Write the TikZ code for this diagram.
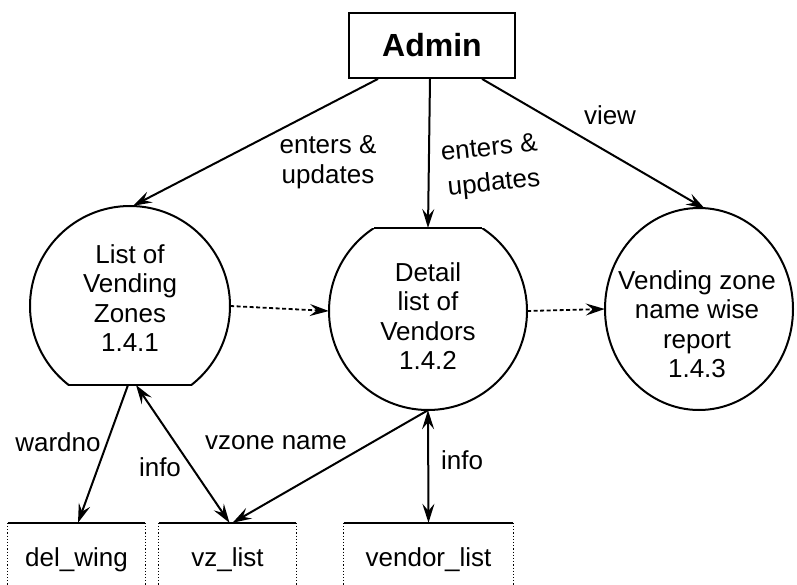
\documentclass[tikz,border=0pt]{standalone}
\usepackage{fontspec}
\setmainfont{Liberation Sans}
\usetikzlibrary{arrows.meta,calc,shapes.geometric}
\begin{document}
\begin{tikzpicture}[x=1bp,y=-1bp,
  lbl/.style={font=\fontsize{26bp}{29.5bp}\selectfont, inner sep=0pt, align=center},
  flow/.style={line width=2bp, -{Stealth[length=19bp,width=12bp,inset=7bp]}},
  bflow/.style={line width=2bp, {Stealth[length=19bp,width=12bp,inset=7bp]}-{Stealth[length=19bp,width=12bp,inset=7bp]}},
  dflow/.style={line width=1.8bp, dash pattern=on 4bp off 2.5bp, -{Stealth[length=19bp,width=12bp,inset=7bp]}},
  outline/.style={line width=2bp},
  store/.style={lbl, minimum height=74bp},
  storetop/.style={line width=2.2bp},
  storeside/.style={line width=1.2bp, dotted}]
\useasboundingbox (0,0) rectangle (797,585);

% external entity
\node[draw, line width=1.8bp, minimum width=166bp, minimum height=65bp, inner sep=0pt,
      font=\fontsize{32bp}{36bp}\selectfont\bfseries] (admin) at (432,45.5) {Admin};

% processes (shapes)
\node[circle, minimum size=200bp, inner sep=0pt] (p1) at (130,306) {};
\node[circle, minimum size=198bp, inner sep=0pt] (p2) at (428,311) {};
\node[ellipse, minimum width=188bp, minimum height=202bp, inner sep=0pt] (p3) at (699,309) {};

\begin{scope}
  \clip (0,0) rectangle (797,385);
  \draw[outline] (p1.center) circle[radius=100];
\end{scope}
\draw[outline] ($(p1.center)+(-61.3,79)$) -- ($(p1.center)+(61.3,79)$);

\begin{scope}
  \clip (0,228) rectangle (797,585);
  \draw[outline] (p2.center) circle[radius=99];
\end{scope}
\draw[outline] ($(p2.center)+(-54,-83)$) -- ($(p2.center)+(54,-83)$);

\draw[outline] (p3.center) ellipse[x radius=94, y radius=101];

% process texts
\node[lbl] (p1t) at (130,298) {List of\\Vending\\Zones\\1.4.1};
\node[lbl] (p2t) at (428,316) {Detail\\list of\\Vendors\\1.4.2};
\node[lbl] (p3t) at (697,324) {Vending zone\\name wise\\report\\1.4.3};

% data stores
\node[store, minimum width=137bp] (s1) at (76.5,560) {del\_wing};
\node[store, minimum width=137bp] (s2) at (227.5,560) {vz\_list};
\node[store, minimum width=169bp] (s3) at (428.5,560) {vendor\_list};
\foreach \s in {s1,s2,s3}{
  \draw[storetop] (\s.north west) -- (\s.north east);
  \draw[storeside] (\s.north west) -- (\s.south west);
  \draw[storeside] (\s.north east) -- (\s.south east);
}

% flows from Admin
\draw[flow] ($(admin.south)+(-54,0)$) -- ($(p1.north)+(3,0)$);
\draw[flow] ($(admin.south)+(-2,0)$) -- ($(p2.center)+(0,-83)$);
\draw[flow] ($(admin.south)+(50,0)$) -- ($(p3.north)+(6,1)$);

% dashed flows between processes
\draw[dflow] (p1.east) -- (p2.west);
\draw[dflow] (p2.east) -- (p3.west);

% flows to stores
\draw[flow] ($(p1.center)+(-2,79)$) -- ($(s1.north)+(1.5,0)$);
\draw[bflow] ($(p1.center)+(6,79)$) -- ($(s2.north)+(2,0)$);
\draw[flow] (p2.south) -- ($(s2.north)+(5,0)$);
\draw[bflow] (p2.south) -- (s3.north);

% labels
\node[lbl] (l1) at (328,162) {enters \&\\updates};
\node[lbl, rotate=6] (l2a) at (489,147) {enters \&};
\node[lbl, rotate=6] (l2b) at (494,184) {updates};
\node[lbl] (l3) at (610,115) {view};
\node[lbl] (l4) at (58,442) {wardno};
\node[lbl] (l5) at (160,467) {info};
\node[lbl] (l6) at (276,443) {vzone name};
\node[lbl] (l7) at (462,460) {info};
\end{tikzpicture}
\end{document}
